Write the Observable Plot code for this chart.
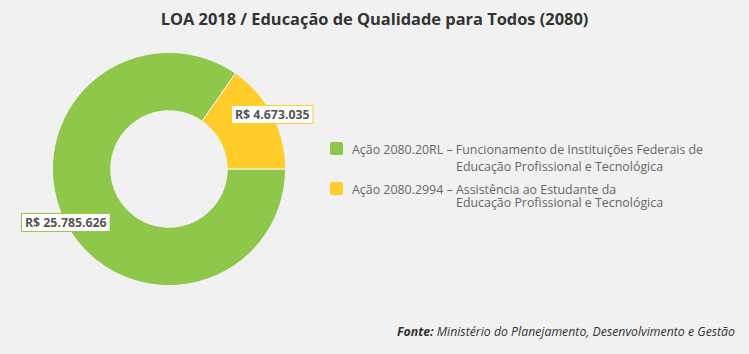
<!DOCTYPE html>
<html><head><meta charset="utf-8">
<script src="https://cdn.jsdelivr.net/npm/d3@7"></script>
<script src="https://cdn.jsdelivr.net/npm/@observablehq/plot@0.6"></script>
<style>
html,body{margin:0;padding:0;background:#f1f1f1;font-family:"Open Sans",sans-serif;}
#wrap{position:relative;width:749px;height:354px;overflow:hidden;background:#f1f1f1}
#title{position:absolute;top:0;left:0;width:749px;height:38px;line-height:38px;text-align:center;font-weight:bold;font-size:16.4px;color:#333}
#chart{position:absolute;top:36px;left:0}
.sw{position:absolute;width:13px;height:13px;border-radius:2px}
.lt{position:absolute;left:456px;text-indent:-104px;font-size:12.4px;color:#666;white-space:nowrap}
#src{position:absolute;right:14px;top:323px;font-size:12.3px;font-style:italic;color:#333;white-space:nowrap}
</style></head>
<body>
<div id="wrap">
  <div id="title"></div>
  <div id="chart"></div>
  <div id="legend"></div>
  <div id="src"><b>Fonte:</b> Ministério do Planejamento, Desenvolvimento e Gestão</div>
</div>
<script>
const titleText = "LOA 2018 / Educação de Qualidade para Todos (2080)";
const categories = ["Ação 2080.20RL", "Ação 2080.2994"];
const legendFirstLines = ["Ação 2080.20RL – Funcionamento de Instituições Federais de", "Ação 2080.2994 – Assistência ao Estudante da"];
const legendSecondLines = ["Educação Profissional e Tecnológica", "Educação Profissional e Tecnológica"];
const values = [25785626, 4673035];
const valueLabels = ["R$ 25.785.626", "R$ 4.673.035"];
const colors = ["#8fc74a", "#ffcc29"];

document.getElementById("title").textContent = titleText;

const pie = d3.pie().sort(null).startAngle(Math.PI / 2).endAngle(Math.PI / 2 + 2 * Math.PI)(values);
const inner = 0.5, N = 240;
const ringPts = [];
pie.forEach((p, i) => {
  const pts = [];
  for (let k = 0; k <= N; k++) { const a = p.startAngle + (p.endAngle - p.startAngle) * k / N; pts.push({a, r: 1}); }
  for (let k = N; k >= 0; k--) { const a = p.startAngle + (p.endAngle - p.startAngle) * k / N; pts.push({a, r: inner}); }
  pts.push({a: p.startAngle, r: 1});
  pts.forEach(q => ringPts.push({cat: categories[i], x: Math.sin(q.a) * q.r, y: -Math.cos(q.a) * q.r}));
});
const labelPts = pie.map((p, i) => {
  const m = (p.startAngle + p.endAngle) / 2;
  return {cat: categories[i], label: valueLabels[i], x: Math.sin(m), y: -Math.cos(m)};
});

const plot = Plot.plot({
  width: 749, height: 318,
  style: {background: "transparent", fontFamily: "Open Sans, sans-serif"},
  x: {domain: [-1, 1], range: [52, 285], axis: null},
  y: {domain: [-1, 1], range: [16, 249], axis: null},
  color: {domain: categories, range: colors},
  marks: [
    Plot.line(ringPts, {x: "x", y: "y", z: "cat", fill: "cat", stroke: "#f4f4f4", strokeWidth: 1, curve: "linear"}),
    Plot.text(labelPts, {x: "x", y: "y", text: "label", fill: "#555", fontWeight: "bold", fontSize: 12.3})
  ]
});
document.getElementById("chart").appendChild(plot);

// boxes behind data labels
const texts = plot.querySelectorAll('g[aria-label="text"] text');
texts.forEach((t, i) => {
  const b = t.getBBox();
  const r = document.createElementNS("http://www.w3.org/2000/svg", "rect");
  r.setAttribute("x", b.x - 3.5); r.setAttribute("y", b.y - 0.5);
  r.setAttribute("width", b.width + 7); r.setAttribute("height", b.height + 1);
  r.setAttribute("fill", "#ffffff"); r.setAttribute("stroke", colors[i]); r.setAttribute("stroke-width", 1);
  const tr = t.getAttribute("transform"); if (tr) r.setAttribute("transform", tr);
  t.parentNode.insertBefore(r, t);
});

// legend: one text block per item (first line hangs left of the second)
const lg = document.getElementById("legend");
const rows = [{sq: 142, l1: 149, gap: 17}, {sq: 182, l1: 189, gap: 13}];
categories.forEach((c, i) => {
  const s = document.createElement("div"); s.className = "sw";
  s.style.left = "330px"; s.style.top = rows[i].sq + "px"; s.style.background = colors[i];
  lg.appendChild(s);
  const a = document.createElement("div"); a.className = "lt";
  a.style.lineHeight = rows[i].gap + "px";
  a.style.top = (rows[i].l1 - rows[i].gap / 2) + "px";
  a.append(legendFirstLines[i], document.createElement("br"), legendSecondLines[i]);
  lg.appendChild(a);
});
</script>
</body></html>
